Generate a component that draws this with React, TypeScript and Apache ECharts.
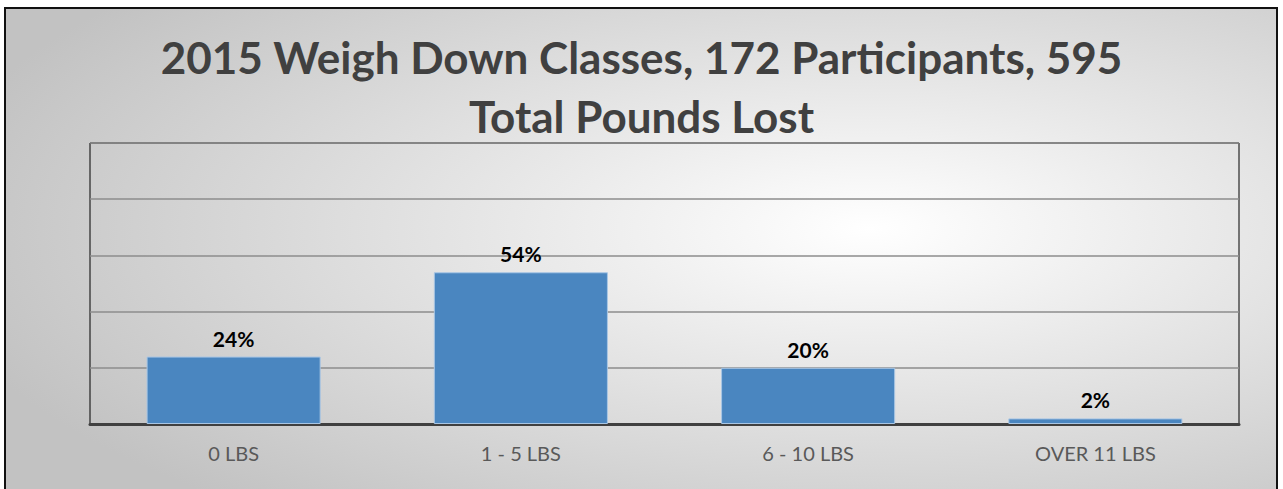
import React, { useEffect, useRef } from "react";
import * as echarts from "echarts";

const categories = ["0 LBS", "1 - 5 LBS", "6 - 10 LBS", "OVER 11 LBS"];
const percentValues = [24, 54, 20, 2];
const titleLines = ["2015 Weigh Down Classes, 172 Participants, 595", "Total Pounds Lost"];

export default function App() {
  const ref = useRef<HTMLDivElement>(null);
  useEffect(() => {
    if (!ref.current) return;
    const chart = echarts.init(ref.current, null, { renderer: "svg" });
    chart.setOption({
      animation: false,
      backgroundColor: "#ffffff",
      graphic: [
        {
          type: "rect",
          z: -10,
          silent: true,
          shape: { x: 5, y: 8, width: 1272, height: 490 },
          style: {
            fill: new echarts.graphic.RadialGradient(0.68, 0.45, 0.75, [
              { offset: 0, color: "#ffffff" },
              { offset: 1, color: "#c2c2c2" },
            ]),
            stroke: "#111111",
            lineWidth: 2,
          },
        },
      ],
      title: {
        text: titleLines.join("\n"),
        left: "center",
        top: 22,
        textStyle: {
          fontFamily: "Lato",
          fontWeight: "bold",
          fontSize: 44,
          lineHeight: 59,
          color: "#404040",
        },
      },
      grid: {
        left: 90,
        right: 44,
        top: 143,
        bottom: 65,
        show: true,
        borderColor: "#000000",
        borderWidth: 1,
        backgroundColor: "transparent",
        containLabel: false,
      },
      xAxis: {
        type: "category",
        data: categories,
        axisTick: { show: false },
        axisLine: { lineStyle: { color: "#404040", width: 3 } },
        axisLabel: {
          color: "#595959",
          fontFamily: "Lato",
          fontSize: 20,
          margin: 19,
        },
      },
      yAxis: {
        type: "value",
        min: 0,
        max: 100,
        interval: 20,
        axisLabel: { show: false },
        axisLine: { show: false },
        axisTick: { show: false },
        splitLine: { lineStyle: { color: "#8c8c8c", width: 1.5 } },
      },
      series: [
        {
          type: "bar",
          data: percentValues,
          barWidth: "60.6%",
          itemStyle: {
            color: "#4a86c0",
            borderColor: "#a9c6e4",
            borderWidth: 1,
          },
          label: {
            show: true,
            position: "top",
            distance: 8,
            formatter: "{c}%",
            color: "#000000",
            fontFamily: "Lato",
            fontWeight: "bold",
            fontSize: 21,
          },
        },
      ],
    });
    return () => chart.dispose();
  }, []);
  return (
    <div
      ref={ref}
      style={{ position: "fixed", left: 0, top: 0, width: 1283, height: 489 }}
    />
  );
}
